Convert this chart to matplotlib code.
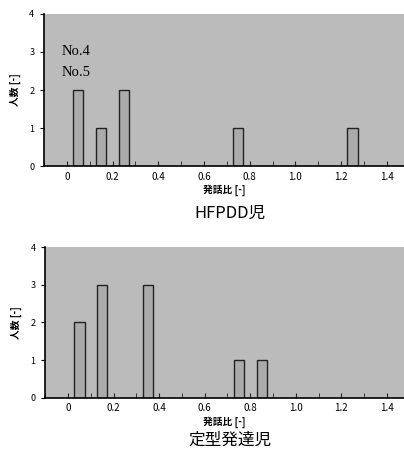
import matplotlib.pyplot as plt
import numpy as np

plt.rcParams['font.family'] = ['Noto Sans CJK JP', 'DejaVu Sans']

# speech ratio bins (bar centres) and number of children per bin
hfpdd_ratio = [0.05, 0.15, 0.25, 0.75, 1.25]
hfpdd_count = [2, 1, 2, 1, 1]
typical_ratio = [0.05, 0.15, 0.35, 0.75, 0.85]
typical_count = [2, 3, 3, 1, 1]

xticks = [0, 0.2, 0.4, 0.6, 0.8, 1.0, 1.2, 1.4]
xticklabels = ['0', '0.2', '0.4', '0.6', '0.8', '1.0', '1.2', '1.4']

bg = '#bbbbbb'
bar_color = '#ababab'

fig = plt.figure(figsize=(4.04, 4.5), dpi=100)
ax1 = fig.add_axes([0.109, 0.631, 0.891, 0.338])
ax2 = fig.add_axes([0.112, 0.116, 0.888, 0.335])

def draw(ax, ratio, count, title, tx, ty):
    ax.set_facecolor(bg)
    ax.bar(ratio, count, width=0.045, color=bar_color, edgecolor='#222222', linewidth=1.0)
    ax.set_xlim(-0.1, 1.475)
    ax.set_ylim(0, 4)
    ax.set_xticks(xticks)
    ax.set_xticklabels(xticklabels)
    ax.set_xticks(np.arange(-0.1, 1.5, 0.1), minor=True)
    ax.set_yticks([0, 1, 2, 3, 4])
    ax.tick_params(axis='x', which='both', direction='in', length=3.5, labelsize=7, color='#222222', pad=4)
    ax.tick_params(axis='y', direction='out', length=3, labelsize=6.5, pad=4)
    for s in ['top', 'right']:
        ax.spines[s].set_visible(False)
    ax.spines['left'].set_linewidth(1.2)
    ax.spines['bottom'].set_linewidth(1.2)
    ax.set_xlabel('発話比 [-]', fontsize=7, fontweight='bold', labelpad=2)
    ax.set_ylabel('人数 [-]', fontsize=7, fontweight='bold', labelpad=6)
    fig.text(tx, ty, title, fontsize=12, ha='center', va='center')

draw(ax1, hfpdd_ratio, hfpdd_count, 'HFPDD児', 0.57, 0.527)
draw(ax2, typical_ratio, typical_count, '定型発達児', 0.57, 0.022)

ax1.text(-0.025, 3.0, 'No.4', family='Liberation Serif', fontsize=10.5, va='center')
ax1.text(-0.025, 2.45, 'No.5', family='Liberation Serif', fontsize=10.5, va='center')

fig.savefig('out.png', dpi=100)
